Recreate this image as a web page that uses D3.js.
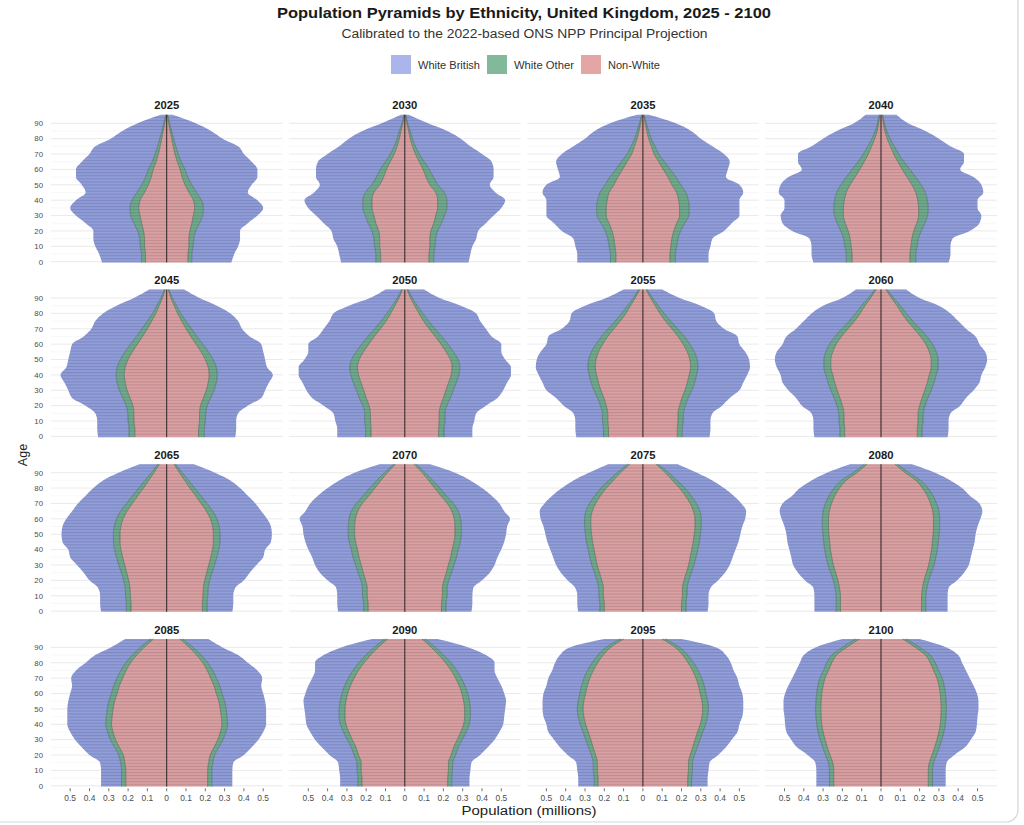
<!DOCTYPE html>
<html><head><meta charset="utf-8">
<script src="https://cdn.jsdelivr.net/npm/d3@7"></script>
<style>body{margin:0;background:#fff;} svg{display:block;font-family:"Liberation Sans",Arial,sans-serif;}</style>
</head><body><svg id="chart" width="1024" height="825"></svg>
<script>
const years = [2025,2030,2035,2040,2045,2050,2055,2060,2065,2070,2075,2080,2085,2090,2095,2100];
const ages = [0,5,10,15,20,25,30,35,40,45,50,55,60,65,70,75,80,85,90,95];
const ageTicks = [0,10,20,30,40,50,60,70,80,90];
const popTicks = [-0.5,-0.4,-0.3,-0.2,-0.1,0,0.1,0.2,0.3,0.4,0.5];
const seriesNames = ["White British","White Other","Non-White"];

// population per side (millions), by panel (years) and age (ages)
const nonWhite = [
 [0.11,0.11,0.115,0.115,0.12,0.13,0.138,0.145,0.138,0.115,0.095,0.08,0.07,0.055,0.043,0.034,0.026,0.018,0.01,0.003],
 [0.125,0.125,0.13,0.13,0.135,0.15,0.16,0.17,0.17,0.16,0.13,0.11,0.095,0.075,0.055,0.04,0.028,0.02,0.01,0.003],
 [0.14,0.14,0.145,0.15,0.16,0.175,0.19,0.19,0.185,0.175,0.15,0.13,0.105,0.082,0.058,0.044,0.03,0.02,0.012,0.004],
 [0.15,0.15,0.155,0.16,0.17,0.185,0.195,0.195,0.19,0.18,0.16,0.135,0.11,0.087,0.066,0.049,0.032,0.02,0.012,0.006],
 [0.165,0.165,0.17,0.17,0.175,0.19,0.205,0.215,0.22,0.215,0.2,0.178,0.152,0.125,0.1,0.078,0.056,0.039,0.022,0.008],
 [0.175,0.175,0.178,0.178,0.185,0.2,0.213,0.227,0.24,0.245,0.236,0.214,0.187,0.158,0.126,0.097,0.073,0.051,0.03,0.012],
 [0.178,0.178,0.182,0.182,0.19,0.202,0.218,0.23,0.24,0.247,0.243,0.23,0.208,0.182,0.15,0.117,0.088,0.064,0.04,0.016],
 [0.188,0.188,0.192,0.192,0.2,0.213,0.227,0.24,0.25,0.26,0.26,0.25,0.232,0.204,0.171,0.137,0.108,0.083,0.054,0.025],
 [0.185,0.185,0.188,0.19,0.197,0.207,0.218,0.228,0.237,0.242,0.242,0.238,0.226,0.206,0.178,0.15,0.12,0.093,0.066,0.038],
 [0.19,0.19,0.195,0.195,0.203,0.215,0.226,0.237,0.245,0.255,0.26,0.26,0.256,0.244,0.22,0.186,0.155,0.123,0.09,0.048],
 [0.2,0.2,0.205,0.205,0.213,0.225,0.237,0.245,0.253,0.261,0.266,0.27,0.27,0.262,0.245,0.22,0.19,0.153,0.116,0.068],
 [0.21,0.21,0.21,0.215,0.223,0.235,0.247,0.255,0.262,0.266,0.27,0.272,0.272,0.268,0.256,0.24,0.215,0.18,0.125,0.073],
 [0.212,0.212,0.212,0.217,0.225,0.245,0.265,0.278,0.286,0.283,0.278,0.27,0.257,0.245,0.228,0.21,0.187,0.155,0.117,0.068],
 [0.222,0.222,0.226,0.226,0.24,0.253,0.272,0.29,0.305,0.31,0.31,0.305,0.296,0.282,0.263,0.24,0.211,0.177,0.138,0.089],
 [0.232,0.232,0.236,0.236,0.245,0.258,0.27,0.283,0.297,0.306,0.31,0.306,0.297,0.288,0.275,0.257,0.234,0.206,0.167,0.099],
 [0.245,0.245,0.245,0.25,0.264,0.278,0.29,0.3,0.307,0.31,0.312,0.31,0.307,0.3,0.29,0.272,0.255,0.23,0.178,0.112]
];
const whiteOther = [
 [0.02,0.02,0.022,0.025,0.03,0.04,0.048,0.045,0.042,0.04,0.035,0.03,0.025,0.02,0.017,0.013,0.01,0.007,0.005,0.002],
 [0.025,0.025,0.027,0.03,0.035,0.04,0.045,0.048,0.048,0.045,0.042,0.038,0.032,0.026,0.02,0.015,0.012,0.008,0.005,0.002],
 [0.028,0.028,0.03,0.032,0.035,0.042,0.048,0.05,0.05,0.048,0.046,0.042,0.036,0.03,0.024,0.018,0.013,0.01,0.006,0.002],
 [0.03,0.03,0.032,0.034,0.038,0.042,0.046,0.05,0.05,0.05,0.048,0.045,0.04,0.032,0.026,0.02,0.015,0.01,0.006,0.003],
 [0.03,0.03,0.03,0.032,0.035,0.038,0.04,0.042,0.042,0.042,0.04,0.038,0.035,0.032,0.028,0.022,0.017,0.012,0.008,0.004],
 [0.028,0.028,0.03,0.03,0.033,0.036,0.038,0.04,0.04,0.04,0.04,0.038,0.036,0.034,0.03,0.026,0.02,0.014,0.009,0.005],
 [0.026,0.026,0.027,0.028,0.03,0.033,0.036,0.038,0.038,0.038,0.038,0.037,0.035,0.033,0.03,0.027,0.022,0.016,0.01,0.006],
 [0.025,0.025,0.026,0.027,0.028,0.03,0.033,0.035,0.036,0.036,0.036,0.036,0.035,0.034,0.032,0.028,0.024,0.018,0.012,0.007],
 [0.024,0.024,0.025,0.025,0.026,0.028,0.03,0.032,0.033,0.034,0.034,0.034,0.034,0.033,0.031,0.028,0.025,0.02,0.014,0.008],
 [0.023,0.023,0.024,0.024,0.025,0.027,0.029,0.031,0.032,0.033,0.033,0.033,0.033,0.033,0.032,0.03,0.027,0.022,0.016,0.009],
 [0.023,0.023,0.023,0.024,0.025,0.026,0.028,0.03,0.031,0.032,0.032,0.032,0.033,0.033,0.032,0.03,0.028,0.024,0.018,0.011],
 [0.022,0.022,0.022,0.023,0.024,0.026,0.028,0.029,0.03,0.031,0.031,0.032,0.032,0.032,0.032,0.03,0.028,0.025,0.02,0.013],
 [0.022,0.022,0.022,0.022,0.023,0.025,0.027,0.028,0.03,0.03,0.03,0.03,0.03,0.03,0.03,0.028,0.026,0.024,0.02,0.016],
 [0.021,0.021,0.021,0.022,0.023,0.024,0.026,0.028,0.029,0.03,0.03,0.03,0.03,0.03,0.03,0.029,0.028,0.025,0.021,0.016],
 [0.02,0.02,0.021,0.021,0.022,0.024,0.026,0.027,0.028,0.029,0.03,0.03,0.03,0.03,0.03,0.03,0.029,0.027,0.024,0.018],
 [0.022,0.022,0.022,0.022,0.023,0.024,0.025,0.026,0.026,0.027,0.027,0.027,0.027,0.027,0.027,0.026,0.026,0.025,0.023,0.02]
];
const whiteBritish = [
 [0.205,0.22,0.233,0.24,0.23,0.25,0.284,0.31,0.29,0.265,0.31,0.36,0.375,0.365,0.34,0.323,0.254,0.205,0.135,0.025],
 [0.18,0.19,0.193,0.21,0.21,0.23,0.255,0.282,0.302,0.265,0.268,0.312,0.333,0.349,0.325,0.285,0.25,0.192,0.105,0.015],
 [0.172,0.172,0.175,0.178,0.225,0.243,0.262,0.26,0.265,0.297,0.304,0.258,0.299,0.338,0.338,0.298,0.257,0.22,0.152,0.024],
 [0.17,0.18,0.173,0.176,0.252,0.283,0.279,0.255,0.26,0.3,0.312,0.3,0.26,0.311,0.338,0.291,0.253,0.2,0.122,0.071],
 [0.16,0.165,0.16,0.168,0.21,0.262,0.265,0.273,0.288,0.263,0.27,0.284,0.303,0.273,0.262,0.27,0.257,0.209,0.14,0.078],
 [0.147,0.147,0.152,0.162,0.202,0.244,0.259,0.263,0.27,0.265,0.244,0.248,0.277,0.258,0.264,0.267,0.277,0.225,0.141,0.083],
 [0.141,0.146,0.141,0.15,0.19,0.215,0.246,0.252,0.262,0.27,0.269,0.263,0.257,0.275,0.24,0.236,0.26,0.22,0.14,0.078],
 [0.132,0.137,0.132,0.141,0.182,0.197,0.22,0.235,0.234,0.244,0.254,0.254,0.243,0.252,0.237,0.235,0.228,0.199,0.134,0.098],
 [0.131,0.136,0.132,0.14,0.177,0.195,0.217,0.24,0.24,0.264,0.269,0.268,0.26,0.251,0.251,0.242,0.235,0.217,0.17,0.094],
 [0.132,0.137,0.131,0.136,0.172,0.198,0.21,0.212,0.223,0.227,0.232,0.237,0.256,0.238,0.238,0.234,0.218,0.195,0.154,0.073],
 [0.112,0.117,0.112,0.121,0.152,0.174,0.185,0.19,0.196,0.202,0.207,0.213,0.227,0.24,0.233,0.22,0.202,0.183,0.146,0.101],
 [0.113,0.113,0.113,0.112,0.148,0.169,0.18,0.181,0.183,0.188,0.189,0.196,0.211,0.225,0.222,0.19,0.177,0.155,0.135,0.074],
 [0.106,0.106,0.106,0.106,0.152,0.17,0.183,0.194,0.199,0.202,0.207,0.21,0.213,0.215,0.237,0.232,0.207,0.191,0.153,0.131],
 [0.092,0.092,0.093,0.097,0.127,0.153,0.167,0.172,0.176,0.175,0.18,0.19,0.189,0.188,0.187,0.196,0.226,0.218,0.171,0.065],
 [0.083,0.083,0.083,0.088,0.123,0.148,0.164,0.18,0.175,0.18,0.18,0.184,0.188,0.182,0.185,0.183,0.192,0.197,0.189,0.083],
 [0.068,0.068,0.068,0.068,0.093,0.133,0.15,0.164,0.164,0.163,0.166,0.168,0.163,0.153,0.143,0.142,0.139,0.145,0.139,0.068]
];

const svg = d3.select("#chart");
const keys = ["nonWhite","whiteOther","whiteBritish"];
const fillColors = {whiteBritish:"#8c99d5", whiteOther:"#6ba688", nonWhite:"#d79c9d"};
const legendColors = ["#aab5ec","#82b99b","#e5a5a5"];
const colStep = 238.1, rowStep = 174.7, cx0 = 166.7, halfW = 115.8;
const yTop0 = 123.3, yBot0 = 261.7;

// outer frame (screenshot border)
svg.append("rect").attr("x",-12).attr("y",-12).attr("width",1030).attr("height",834)
  .attr("rx",12).attr("fill","none").attr("stroke","#d6d6d6").attr("stroke-width",1.2);

// stripe texture
const defs = svg.append("defs");
const pat = defs.append("pattern").attr("id","stripes").attr("patternUnits","userSpaceOnUse")
  .attr("width",8).attr("height",1.538*2);
pat.append("rect").attr("x",0).attr("y",0).attr("width",8).attr("height",0.9).attr("fill","rgba(20,20,60,0.13)");
pat.append("rect").attr("x",0).attr("y",1.538).attr("width",8).attr("height",0.6).attr("fill","rgba(255,255,255,0.08)");

// titles
svg.append("text").attr("x",524).attr("y",18).attr("text-anchor","middle")
  .attr("font-size",15).attr("font-weight","bold").attr("fill","#1a1a1a")
  .attr("textLength",494).attr("lengthAdjust","spacingAndGlyphs")
  .text("Population Pyramids by Ethnicity, United Kingdom, 2025 - 2100");
svg.append("text").attr("x",524.5).attr("y",38).attr("text-anchor","middle")
  .attr("font-size",12.5).attr("fill","#333")
  .attr("textLength",366).attr("lengthAdjust","spacingAndGlyphs")
  .text("Calibrated to the 2022-based ONS NPP Principal Projection");

// legend
const legX = [391, 487, 581];
const legW = [62, 60, 52];
seriesNames.forEach((n,i)=>{
  svg.append("rect").attr("x",legX[i]).attr("y",55).attr("width",20).attr("height",19).attr("fill",legendColors[i]);
  svg.append("text").attr("x",legX[i]+27).attr("y",68.5).attr("font-size",10).attr("fill","#333")
    .attr("textLength",legW[i]).attr("lengthAdjust","spacingAndGlyphs").text(n);
});

// axis titles
svg.append("text").attr("transform","translate(27,455) rotate(-90)").attr("text-anchor","middle")
  .attr("font-size",12.5).attr("fill","#222").text("Age");
svg.append("text").attr("x",529).attr("y",815).attr("text-anchor","middle")
  .attr("font-size",12.5).attr("fill","#222")
  .attr("textLength",135).attr("lengthAdjust","spacingAndGlyphs").text("Population (millions)");

const last = ages.length - 1;

years.forEach((yr, i) => {
  const col = i % 4, row = Math.floor(i / 4);
  const cx = cx0 + col * colStep;
  const x = d3.scaleLinear().domain([-0.6, 0.6]).range([cx - halfW, cx + halfW]);
  const y = d3.scaleLinear().domain([0, 90]).range([yBot0 + row * rowStep, yTop0 + row * rowStep]);
  const rows = ages.map((a, j) => ({age: a, nonWhite: nonWhite[i][j], whiteOther: whiteOther[i][j], whiteBritish: whiteBritish[i][j]}));
  const layers = d3.stack().keys(keys)(rows);
  const g = svg.append("g");

  // gridlines
  d3.range(5, 90, 10).forEach(a => {
    g.append("line").attr("x1", x(-0.6)).attr("x2", x(0.6)).attr("y1", y(a)).attr("y2", y(a))
      .attr("stroke", "#f3f3f3").attr("stroke-width", 0.6);
  });
  ageTicks.forEach(a => {
    g.append("line").attr("x1", x(-0.6)).attr("x2", x(0.6)).attr("y1", y(a)).attr("y2", y(a))
      .attr("stroke", "#e4e4e4").attr("stroke-width", 0.8);
  });

  const yAcc = (d, j) => y(d.data.age + (j === 0 ? -0.5 : (j === last ? 0.5 : 0)));
  [1, -1].forEach(side => {
    layers.forEach(layer => {
      const area = d3.area().curve(d3.curveMonotoneY).y(yAcc)
        .x0(d => x(side * d[0])).x1(d => x(side * d[1]));
      g.append("path").datum(layer).attr("d", area).attr("fill", fillColors[layer.key]);
    });
  });
  // stripe texture over the whole pyramid
  const outer = layers[layers.length - 1];
  g.append("path").datum(outer)
    .attr("d", d3.area().curve(d3.curveMonotoneY).y(yAcc).x0(d => x(-d[1])).x1(d => x(d[1])))
    .attr("fill", "url(#stripes)");
  // boundary lines between ethnic groups
  [1, -1].forEach(side => {
    layers.slice(0, 2).forEach((layer, k) => {
      const line = d3.line().curve(d3.curveMonotoneY).y(yAcc).x(d => x(side * d[1]));
      g.append("path").datum(layer).attr("d", line).attr("fill", "none")
        .attr("stroke", k === 0 ? "#5d6b5c" : "#4f6f68").attr("stroke-opacity", 0.8).attr("stroke-width", 0.9);
    });
  });
  // centre line
  g.append("line").attr("x1", x(0)).attr("x2", x(0)).attr("y1", y(-0.5)).attr("y2", y(95.5))
    .attr("stroke", "#2a1f22").attr("stroke-width", 1);

  // panel title
  g.append("text").attr("x", cx).attr("y", y(0) - 152.3).attr("text-anchor", "middle")
    .attr("font-size", 10).attr("font-weight", "bold").attr("fill", "#1a1a1a")
    .attr("textLength", 25).attr("lengthAdjust", "spacingAndGlyphs").text(yr);

  // y axis labels on first column
  if (col === 0) {
    ageTicks.forEach(a => {
      g.append("text").attr("x", 43).attr("y", y(a) + 2.8).attr("text-anchor", "end")
        .attr("font-size", 7.8).attr("fill", "#4d4d4d").text(a);
    });
  }
  // x axis on bottom row
  if (row === 3) {
    const fmt = t => Math.abs(t) < 1e-9 ? "0" : d3.format(".1f")(Math.abs(t));
    popTicks.forEach(t => {
      g.append("line").attr("x1", x(t)).attr("x2", x(t)).attr("y1", y(0) + 2.5).attr("y2", y(0) + 5.5)
        .attr("stroke", "#333").attr("stroke-width", 0.7);
      g.append("text").attr("x", x(t)).attr("y", y(0) + 15).attr("text-anchor", "middle")
        .attr("font-size", 8.4).attr("fill", "#4d4d4d").text(fmt(t));
    });
  }
});
</script>
</body></html>
